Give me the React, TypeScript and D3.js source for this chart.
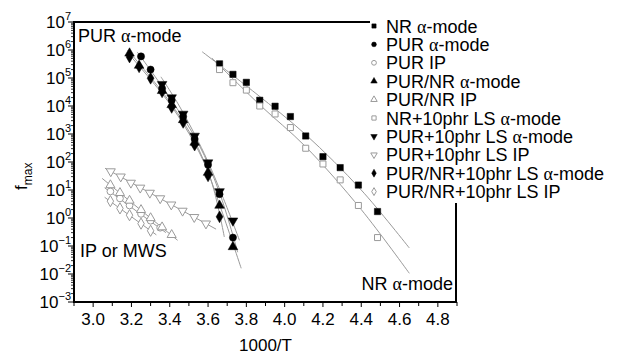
import * as d3 from "d3";

// x = 1000/T, y = f_max
const nrAlpha: [number, number][] = [
  [3.66, 3.2e5], [3.73, 1.35e5], [3.8, 7.0e4], [3.87, 1.6e4], [3.95, 9.8e3], [4.03, 4.2e3],
  [4.11, 850], [4.2, 155], [4.29, 63], [4.385, 15], [4.485, 1.7],
];
const nrLsAlpha: [number, number][] = [
  [3.66, 2.0e5], [3.73, 6.8e4], [3.8, 3.7e4], [3.87, 1.0e4], [3.95, 5.2e3], [4.03, 1.7e3],
  [4.11, 310], [4.2, 85], [4.29, 23], [4.385, 2.8], [4.485, 0.2],
];
const purAlpha: [number, number][] = [
  [3.25, 5.9e5], [3.3, 2.0e5], [3.36, 4.2e4], [3.41, 1.6e4], [3.47, 4.2e3], [3.53, 660],
  [3.6, 79], [3.66, 7.1], [3.73, 0.2],
];
const purNrAlpha: [number, number][] = [
  [3.19, 7.6e5], [3.24, 2.8e5], [3.36, 3.5e4], [3.41, 1.1e4], [3.47, 3.2e3], [3.53, 500],
  [3.6, 42], [3.66, 2.8], [3.73, 0.093],
];
const purLsAlpha: [number, number][] = [
  [3.36, 6.0e4], [3.41, 2.0e4], [3.47, 5.2e3], [3.53, 850], [3.6, 95], [3.66, 8.9], [3.73, 0.8],
];
const purNrLsAlpha: [number, number][] = [
  [3.19, 5.6e5], [3.24, 2.5e5], [3.3, 9.8e4], [3.36, 3.2e4], [3.41, 8.9e3], [3.47, 2.6e3],
  [3.53, 400], [3.6, 32], [3.66, 1.1],
];
const purLsIP: [number, number][] = [
  [3.092, 46], [3.144, 30], [3.197, 18], [3.246, 12], [3.296, 7.9], [3.35, 5.0],
  [3.408, 3.0], [3.467, 1.8], [3.528, 1.07], [3.589, 0.63],
];
const purNrIP: [number, number][] = [
  [3.09, 15], [3.14, 7.9], [3.19, 4.2], [3.25, 1.95], [3.3, 1.0], [3.36, 0.47], [3.41, 0.25],
];
const purIP: [number, number][] = [
  [3.09, 8.9], [3.14, 5.0], [3.19, 2.8], [3.25, 1.4], [3.3, 0.8], [3.35, 0.45],
];
const purNrLsIP: [number, number][] = [
  [3.09, 4.0], [3.14, 2.2], [3.19, 1.26], [3.25, 0.63], [3.3, 0.35],
];

// fitted curves
const fitLines: [number, number][][] = [
  [[3.569, 8.7e5], [3.85, 2.8e4], [4.11, 950], [4.4, 10], [4.651, 0.085]],
  [[3.62, 5.2e5], [3.87, 1.1e4], [4.11, 350], [4.4, 2.0], [4.651, 0.0106]],
  [[3.23, 8.5e5], [3.4, 2.0e4], [3.55, 450], [3.66, 8], [3.755, 0.06]],
  [[3.18, 1.0e6], [3.4, 1.4e4], [3.55, 300], [3.66, 3], [3.773, 0.016]],
  [[3.354, 1.1e5], [3.45, 1.0e4], [3.58, 200], [3.68, 5], [3.764, 0.16]],
  [[3.18, 8e5], [3.4, 1.2e4], [3.55, 250], [3.62, 18], [3.685, 0.21]],
  [[3.062, 60], [3.642, 0.4]],
  [[3.047, 26], [3.441, 0.16]],
  [[3.06, 12], [3.38, 0.3]],
  [[3.06, 5.5], [3.33, 0.25]],
];

const xTicks = [3.0, 3.2, 3.4, 3.6, 3.8, 4.0, 4.2, 4.4, 4.6, 4.8];
const yExponents = [7, 6, 5, 4, 3, 2, 1, 0, -1, -2, -3];

type Series = {
  name: string;
  mode: string;
  data: [number, number][];
  shape: d3.SymbolType;
  flip?: boolean;
  filled: boolean;
};

const series: Series[] = [
  { name: "NR ", mode: "α-mode", data: nrAlpha, shape: d3.symbolSquare, filled: true },
  { name: "PUR ", mode: "α-mode", data: purAlpha, shape: d3.symbolCircle, filled: true },
  { name: "PUR IP", mode: "", data: purIP, shape: d3.symbolCircle, filled: false },
  { name: "PUR/NR ", mode: "α-mode", data: purNrAlpha, shape: d3.symbolTriangle, filled: true },
  { name: "PUR/NR IP", mode: "", data: purNrIP, shape: d3.symbolTriangle, filled: false },
  { name: "NR+10phr LS ", mode: "α-mode", data: nrLsAlpha, shape: d3.symbolSquare, filled: false },
  { name: "PUR+10phr LS ", mode: "α-mode", data: purLsAlpha, shape: d3.symbolTriangle, flip: true, filled: true },
  { name: "PUR+10phr LS IP", mode: "", data: purLsIP, shape: d3.symbolTriangle, flip: true, filled: false },
  { name: "PUR/NR+10phr LS ", mode: "α-mode", data: purNrLsAlpha, shape: d3.symbolDiamond, filled: true },
  { name: "PUR/NR+10phr LS IP", mode: "", data: purNrLsIP, shape: d3.symbolDiamond, filled: false },
];

const W = 627;
const H = 363;
const left = 74;
const right = 457;
const top = 22;
const bottom = 302;
const font = "'Liberation Sans', Arial, Helvetica, sans-serif";
const greek = "'Liberation Serif', 'Times New Roman', serif";
const gray = "#9a9a9a";

const x = d3.scaleLinear().domain([2.9, 4.9]).range([left, right]);
const y = d3.scaleLog().domain([1e-3, 1e7]).range([bottom, top]);

const line = d3
  .line<[number, number]>()
  .x((d) => x(d[0]))
  .y((d) => y(d[1]))
  .curve(d3.curveCatmullRom);

function Marker({ s, cx, cy, size }: { s: Series; cx: number; cy: number; size: number }) {
  const d = d3.symbol().type(s.shape).size(size)() || "";
  return (
    <path
      d={d}
      transform={`translate(${cx},${cy})${s.flip ? " rotate(180)" : ""}`}
      fill={s.filled ? "#000" : "#fff"}
      stroke={s.filled ? "#000" : gray}
      strokeWidth={s.filled ? 0.5 : 1}
    />
  );
}

export default function App() {
  const minorX = d3.range(29, 50).map((v) => v / 10);
  const minorY: number[] = [];
  for (let e = -3; e < 7; e++) {
    for (let k = 2; k < 10; k++) minorY.push(k * Math.pow(10, e));
  }

  return (
    <svg width={W} height={H} style={{ display: "block", position: "absolute", left: 0, top: 0 }} fontFamily={font}>
      <rect width={W} height={H} fill="#fff" />

      {/* fit curves */}
      {fitLines.map((f, i) => (
        <path key={i} d={line(f) || ""} fill="none" stroke={gray} strokeWidth={1} />
      ))}

      {/* data points */}
      {series.map((s, i) =>
        s.data.map((d, j) => <Marker key={`${i}-${j}`} s={s} cx={x(d[0])} cy={y(d[1])} size={s.filled ? 40 : 36} />)
      )}

      {/* frame */}
      <line x1={left} x2={left} y1={top - 1} y2={bottom + 1} stroke="#000" strokeWidth={2} />
      <line x1={left - 1} x2={right} y1={bottom} y2={bottom} stroke="#000" strokeWidth={2} />
      <line x1={left - 1} x2={370} y1={top} y2={top} stroke="#000" strokeWidth={2} />
      <line x1={right - 1} x2={right - 1} y1={203} y2={bottom + 1} stroke="#000" strokeWidth={2} />

      {/* x ticks */}
      {minorX.map((v) => (
        <line key={v} x1={x(v)} x2={x(v)} y1={bottom} y2={bottom + (Math.round(v * 10) % 2 === 0 ? 5 : 4)} stroke="#000" strokeWidth={1} />
      ))}
      {xTicks.map((v) => (
        <text key={v} x={x(v)} y={bottom + 23} textAnchor="middle" fontSize={17}>
          {v.toFixed(1)}
        </text>
      ))}

      {/* y ticks */}
      {minorY.map((v, i) => (
        <line key={i} x1={left - 3} x2={left} y1={y(v)} y2={y(v)} stroke="#000" strokeWidth={0.8} />
      ))}
      {yExponents.map((e) => (
        <g key={e}>
          <line x1={left - 6} x2={left} y1={y(Math.pow(10, e))} y2={y(Math.pow(10, e))} stroke="#000" strokeWidth={1} />
          <text x={71} y={y(Math.pow(10, e)) + 6} textAnchor="end" fontSize={17}>
            10
            <tspan fontSize={11} dy={-8}>
              {e < 0 ? `\u2212${-e}` : e}
            </tspan>
          </text>
        </g>
      ))}

      {/* axis titles */}
      <text x={(left + right) / 2} y={351} textAnchor="middle" fontSize={17}>
        1000/T
      </text>
      <text transform="translate(27,190) rotate(-90)" fontSize={17}>
        f
        <tspan fontSize={12} dy={5}>
          max
        </tspan>
      </text>

      {/* annotations */}
      <text x={78} y={42} fontSize={18}>
        PUR <tspan fontFamily={greek}>α</tspan>-mode
      </text>
      <text x={80} y={257} fontSize={18}>
        IP or MWS
      </text>
      <text x={453} y={290} textAnchor="end" fontSize={18}>
        NR <tspan fontFamily={greek}>α</tspan>-mode
      </text>

      {/* legend */}
      {series.map((s, i) => {
        const ly = 26 + i * 18.4;
        return (
          <g key={i}>
            <Marker s={s} cx={374} cy={ly} size={18} />
            <text x={386} y={ly + 6.5} fontSize={18}>
              {s.name}
              {s.mode && (
                <>
                  <tspan fontFamily={greek}>α</tspan>-mode
                </>
              )}
            </text>
          </g>
        );
      })}
    </svg>
  );
}
